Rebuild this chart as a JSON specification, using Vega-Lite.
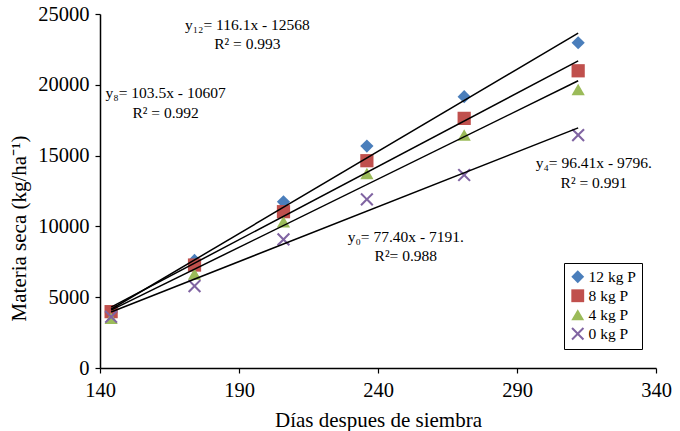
{
  "$schema": "https://vega.github.io/schema/vega-lite/v6.json",
  "autosize": "none",
  "width": 556,
  "height": 354,
  "padding": {"left": 100, "top": 14, "right": 24, "bottom": 63},
  "background": "white",
  "config": {
    "view": {"stroke": null},
    "font": "Liberation Serif",
    "axis": {
      "domainColor": "black", "tickColor": "black", "grid": false,
      "labelFont": "Liberation Serif", "labelFontSize": 20.5, "labelColor": "black",
      "titleFont": "Liberation Serif", "titleFontSize": 21, "titleFontWeight": "normal", "titleColor": "black",
      "tickSize": 5, "domainWidth": 1.5, "tickWidth": 1.2, "labelFlush": false, "labelOverlap": false
    }
  },
  "datasets": {
    "pts": [
      {"x": 144, "y": 3900, "serie": "12 kg P"},
      {"x": 174, "y": 7600, "serie": "12 kg P"},
      {"x": 206, "y": 11740, "serie": "12 kg P"},
      {"x": 236, "y": 15670, "serie": "12 kg P"},
      {"x": 271, "y": 19160, "serie": "12 kg P"},
      {"x": 312, "y": 22970, "serie": "12 kg P"},
      {"x": 144, "y": 3980, "serie": "8 kg P"},
      {"x": 174, "y": 7270, "serie": "8 kg P"},
      {"x": 206, "y": 11040, "serie": "8 kg P"},
      {"x": 236, "y": 14640, "serie": "8 kg P"},
      {"x": 271, "y": 17630, "serie": "8 kg P"},
      {"x": 312, "y": 20990, "serie": "8 kg P"},
      {"x": 144, "y": 3510, "serie": "4 kg P"},
      {"x": 174, "y": 6640, "serie": "4 kg P"},
      {"x": 206, "y": 10330, "serie": "4 kg P"},
      {"x": 236, "y": 13740, "serie": "4 kg P"},
      {"x": 271, "y": 16450, "serie": "4 kg P"},
      {"x": 312, "y": 19670, "serie": "4 kg P"},
      {"x": 144, "y": 3620, "serie": "0 kg P"},
      {"x": 174, "y": 5790, "serie": "0 kg P"},
      {"x": 206, "y": 9080, "serie": "0 kg P"},
      {"x": 236, "y": 11910, "serie": "0 kg P"},
      {"x": 271, "y": 13630, "serie": "0 kg P"},
      {"x": 312, "y": 16450, "serie": "0 kg P"}
    ],
    "lines": [
      {"x": 144, "y": 4150, "serie": "12 kg P"},
      {"x": 312, "y": 23655, "serie": "12 kg P"},
      {"x": 144, "y": 4297, "serie": "8 kg P"},
      {"x": 312, "y": 21685, "serie": "8 kg P"},
      {"x": 144, "y": 4087, "serie": "4 kg P"},
      {"x": 312, "y": 20284, "serie": "4 kg P"},
      {"x": 144, "y": 3955, "serie": "0 kg P"},
      {"x": 312, "y": 16958, "serie": "0 kg P"}
    ],
    "labels": [
      {"x": 193, "y": 24220, "t": "y₁₂= 116.1x - 12568"},
      {"x": 193, "y": 22900, "t": "R² = 0.993"},
      {"x": 163.6, "y": 19440, "t": "y₈= 103.5x - 10607"},
      {"x": 163.6, "y": 18000, "t": "R² = 0.992"},
      {"x": 317.6, "y": 14470, "t": "y₄= 96.41x - 9796."},
      {"x": 317.6, "y": 13080, "t": "R² = 0.991"},
      {"x": 250, "y": 9270, "t": "y₀= 77.40x - 7191."},
      {"x": 250, "y": 7930, "t": "R²= 0.988"}
    ]
  },
  "layer": [
    {
      "data": {"name": "pts"},
      "mark": {"type": "point", "filled": true, "opacity": 1, "size": 175},
      "encoding": {
        "x": {"field": "x", "type": "quantitative",
          "scale": {"domain": [140, 340], "nice": false},
          "axis": {"values": [140, 190, 240, 290, 340], "title": "Días despues de siembra", "labelPadding": 7, "titlePadding": 9}},
        "y": {"field": "y", "type": "quantitative",
          "scale": {"domain": [0, 25000], "nice": false},
          "axis": {"values": [0, 5000, 10000, 15000, 20000, 25000], "format": "d", "title": "Materia seca (kg/ha⁻¹)", "labelPadding": 6, "titlePadding": 8, "titleY": 214}},
        "color": {"field": "serie", "type": "nominal",
          "scale": {"domain": ["12 kg P", "8 kg P", "4 kg P", "0 kg P"], "range": ["#4a7ebb", "#c0504d", "#9bbb59", "#8064a2"]},
          "legend": {"title": null, "orient": "none", "legendX": 464, "legendY": 249,
            "strokeColor": "black", "padding": 6, "fillColor": "white",
            "labelFont": "Liberation Serif", "labelFontSize": 15.5, "labelColor": "black",
            "symbolSize": 165, "rowPadding": 2, "labelOffset": 3}},
        "shape": {"field": "serie", "type": "nominal",
          "scale": {"domain": ["12 kg P", "8 kg P", "4 kg P", "0 kg P"],
            "range": ["diamond", "square", "triangle-up", "M-1,-0.78L-0.78,-1L0,-0.22L0.78,-1L1,-0.78L0.22,0L1,0.78L0.78,1L0,0.22L-0.78,1L-1,0.78L-0.22,0Z"]}}
      }
    },
    {
      "data": {"name": "lines"},
      "mark": {"type": "line", "color": "black", "strokeWidth": 1.5},
      "encoding": {
        "x": {"field": "x", "type": "quantitative"},
        "y": {"field": "y", "type": "quantitative"},
        "detail": {"field": "serie", "type": "nominal"}
      }
    },
    {
      "data": {"name": "labels"},
      "mark": {"type": "text", "font": "Liberation Serif", "fontSize": 15.5, "color": "black", "align": "center", "baseline": "middle"},
      "encoding": {
        "x": {"field": "x", "type": "quantitative"},
        "y": {"field": "y", "type": "quantitative"},
        "text": {"field": "t", "type": "nominal"}
      }
    }
  ]
}
